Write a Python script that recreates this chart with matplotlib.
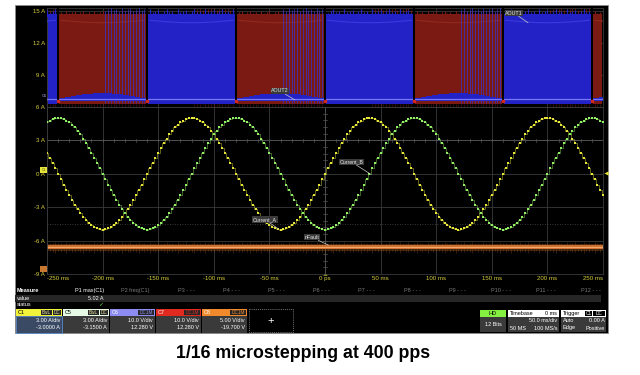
import matplotlib.pyplot as plt
import numpy as np
from matplotlib.patches import Rectangle

plt.rcParams['font.family'] = ['Liberation Sans', 'DejaVu Sans']

# ---- values ----
time_ticks_ms = [-250, -200, -150, -100, -50, 0, 50, 100, 150, 200, 250]
time_tick_labels = ["-250 ms", "-200 ms", "-150 ms", "-100 ms", "-50 ms", "0 ps",
                    "50 ms", "100 ms", "150 ms", "200 ms", "250 ms"]
upper_ticks_a = [9, 12, 15]
upper_tick_labels = ["9 A", "12 A", "15 A"]
lower_ticks_a = [-9, -6, -3, 0, 3, 6]
lower_tick_labels = ["-9 A", "-6 A", "-3 A", "0 A", "3 A", "6 A"]

step_period_ms = 2.5            # 400 pps
first_step, last_step = -100, 100
# coil current at each microstep over a quarter cycle (A), 1/16 stepping
quarter_levels_a = [0.00, 0.49, 0.98, 1.45, 1.91, 2.35, 2.77, 3.17, 3.54,
                    3.87, 4.16, 4.41, 4.62, 4.78, 4.90, 4.98, 5.02]
phase_b_lag_steps = 16

# bridge outputs: which output is switching in each interval
aout_edges_ms = [-250, -240, -160, -80, 0, 80, 160, 240, 250]
aout_active = ["AOUT1", "AOUT2", "AOUT1", "AOUT2", "AOUT1", "AOUT2", "AOUT1", "AOUT2"]
aout_high_a = 14.7
aout_low_a = 6.3
aout_rail_a = 6.75
spike_heights = [0.32, 0.08, 0.22, 0.41, 0.14, 0.28, 0.05, 0.37, 0.18, 0.26]

nfault_level_a = -6.57

measure_headers = ["P1 max(C1)", "P2 freq(C1)", "P3 - - -", "P4 - - -", "P5 - - -", "P6 - - -",
                   "P7 - - -", "P8 - - -", "P9 - - -", "P10 - - -", "P11 - - -", "P12 - - -"]
measure_value = "5.02 A"
channel_names = ["C1", "C5", "C6", "C7", "C8"]
channel_scales = ["3.00 A/div", "3.00 A/div", "10.0 V/div", "10.0 V/div", "5.00 V/div"]
channel_offsets = ["-3.0000 A", "-3.1500 A", "12.280 V", "12.280 V", "-19.700 V"]
channel_badges = ["BwL DC", "BwL DC", "DC1M", "DC1M", "DC1M"]
channel_colors = ["#f2f23a", "#e6fbe6", "#8c8cf2", "#e02a20", "#f08a2c"]

YELLOW = "#e6e63a"
GREEN = "#92ee62"
BLUE = "#2222c6"
RED = "#7a1a12"
ORANGE = "#cc7030"
LABEL = "#d8cf3c"
GRID = "#3a3a3a"


def level(k):
    k %= 64
    if k <= 16:
        return quarter_levels_a[k]
    if k <= 32:
        return quarter_levels_a[32 - k]
    if k <= 48:
        return -quarter_levels_a[k - 32]
    return -quarter_levels_a[64 - k]


steps = np.arange(first_step, last_step + 1)
t_steps = steps * step_period_ms
current_a = np.array([level(k) for k in steps])
current_b = np.array([level(k - phase_b_lag_steps) for k in steps])
phase = steps % 64
spikes = np.array([spike_heights[i % len(spike_heights)] for i in range(len(steps))])

fig = plt.figure(figsize=(6.4, 3.75), dpi=100)
fig.patch.set_facecolor("white")

# background layer in pixel coordinates for the scope frame and panels
bg = fig.add_axes([0, 0, 1, 1])
bg.set_xlim(0, 640)
bg.set_ylim(375, 0)
bg.axis("off")
bg.add_patch(Rectangle((15, 5), 593, 328, fc="black", ec="#8c8c8c", lw=0.6))

ax_top = fig.add_axes([47 / 640, 1 - 107 / 375, 556 / 640, 99 / 375])
ax_bot = fig.add_axes([47 / 640, 1 - 274 / 375, 556 / 640, 167 / 375])
for ax in (ax_top, ax_bot):
    ax.set_facecolor("black")
    ax.set_xlim(-250, 250)
    ax.set_xticks(time_ticks_ms)
    ax.grid(True, color=GRID, lw=0.6)
    ax.set_axisbelow(True)
    for s in ax.spines.values():
        s.set_color(GRID)
        s.set_linewidth(0.6)
    ax.tick_params(length=0, labelsize=4.4, labelcolor=LABEL, pad=1.5)

ax_top.set_ylim(6, 15.28)
ax_top.set_yticks(upper_ticks_a, upper_tick_labels)
ax_top.set_xticklabels([])
ax_bot.set_ylim(-9, 6)
ax_bot.set_yticks(lower_ticks_a, lower_tick_labels)
ax_bot.set_xticklabels(time_tick_labels)
xlabels = ax_bot.get_xticklabels()
xlabels[0].set_horizontalalignment("left")
xlabels[-1].set_horizontalalignment("right")

# ---- upper panel: AOUT1 / AOUT2 PWM envelopes ----
for i, owner in enumerate(aout_active):
    t0, t1 = aout_edges_ms[i], aout_edges_ms[i + 1]
    color = BLUE if owner == "AOUT1" else RED
    ax_top.add_patch(Rectangle((t0 + 0.8, aout_low_a), t1 - t0 - 1.6, aout_high_a - aout_low_a,
                               fc=color, ec="none", zorder=3 if owner == "AOUT1" else 2))

red_half = current_a < 0
blue_half = current_a > 0
red_decay = (phase > 48) & (phase < 64)
blue_decay = (phase > 16) & (phase < 32)

# ragged tops / hanging spikes
ax_top.vlines(t_steps[blue_half], aout_high_a - 0.3, aout_high_a + spikes[blue_half] * 1.2,
              color=BLUE, lw=0.9, zorder=3)
ax_top.vlines(t_steps[red_half], aout_high_a - 0.3, aout_high_a + spikes[red_half] * 0.8,
              color=RED, lw=0.9, zorder=2)
ax_top.vlines(t_steps[blue_decay], aout_high_a, aout_high_a + 0.3 + spikes[blue_decay],
              color="#8a2016", lw=0.5, zorder=2.5)
ax_top.vlines(t_steps[red_half], aout_low_a - 0.15 - spikes[red_half], aout_low_a,
              color="#6a1a12", lw=0.4, zorder=2)
ax_top.vlines(t_steps[blue_decay], aout_low_a - 0.1 - spikes[blue_decay], aout_low_a,
              color="#6a1a12", lw=0.4, zorder=2)
# AOUT1 pulses during current decay in the AOUT2 half
ax_top.vlines(t_steps[red_decay], aout_low_a + 0.1, aout_high_a + 0.25 + spikes[red_decay],
              color="#3434d8", lw=0.5, zorder=3)

# inner level traces
top_a = np.where(blue_half, 14.15 - 0.05 * np.abs(current_a), np.nan)
top_b = np.where(red_half, 14.15 - 0.05 * np.abs(current_a), np.nan)
ax_top.plot(t_steps, top_a, color="#3a3ae0", lw=0.8, zorder=3.2)
ax_top.plot(t_steps, top_b, color="#922a1e", lw=0.8, zorder=2.2)

# AOUT1 low level with I*R hump while AOUT2 drives
ax_top.fill_between(t_steps, aout_rail_a - 0.2, aout_rail_a + 0.11 * np.abs(current_a),
                    where=current_a <= 0, step="mid", color=BLUE, lw=0, zorder=4)
ax_top.axhline(aout_rail_a, color="#7878ff", lw=0.9, zorder=5)
for e in aout_edges_ms[1:-1]:
    ax_top.axvline(e, color="black", lw=1.4, zorder=6)
    ax_top.plot([e], [aout_rail_a - 0.15], "s", ms=1.6, color="#d02a20", zorder=7)

# ---- lower panel: coil currents and nFault ----
# centre axes of the 8-division graticule
ax_bot.axhline(3, color="#555555", lw=0.6, zorder=1)
ax_bot.axvline(0, color="#555555", lw=0.6, zorder=1)
for x in np.arange(-250, 251, 10):
    ax_bot.plot([x, x], [2.85, 3.15], color="#555555", lw=0.5, zorder=1)
for y in np.arange(-9, 6.01, 0.6):
    ax_bot.plot([-1.8, 1.8], [y, y], color="#555555", lw=0.5, zorder=1)
ax_bot.axhline(-4.5, color="#4a4a4a", lw=0.6, ls=(0, (1, 2)), zorder=1)

ax_bot.vlines(t_steps, nfault_level_a - 0.3 - spikes * 0.6, nfault_level_a + 0.25 + spikes * 0.5,
              color="#8a4e1e", lw=0.4, alpha=0.7, zorder=2)
ax_bot.fill_between([-250, 250], nfault_level_a - 0.35, nfault_level_a + 0.3,
                    color="#7a4418", alpha=0.5, lw=0, zorder=2)
ax_bot.fill_between([-250, 250], nfault_level_a - 0.2, nfault_level_a + 0.18,
                    color=ORANGE, lw=0, zorder=2)
ax_bot.axhline(nfault_level_a, color="#f2aa6a", lw=0.8, zorder=2)

ax_bot.plot(t_steps, current_a, drawstyle="steps-mid", color=YELLOW, lw=0.6, alpha=0.5, zorder=3)
ax_bot.plot(t_steps, current_a, "s", ms=1.7, mew=0, color=YELLOW, zorder=3)
ax_bot.plot(t_steps, current_b, drawstyle="steps-mid", color=GREEN, lw=0.6, alpha=0.5, zorder=3)
ax_bot.plot(t_steps, current_b, "s", ms=1.7, mew=0, color=GREEN, zorder=3)

lab = dict(fontsize=3.8, color="#e8e8e8", zorder=8, ha="center", va="center",
           bbox=dict(fc="#3a3a3a", ec="none", pad=0.4),
           arrowprops=dict(arrowstyle="-", color="#c8c8c8", lw=0.5, shrinkA=0, shrinkB=0))
ax_top.annotate("AOUT1", xy=(182.6, 13.9), xytext=(170, 14.8), **lab)
ax_top.annotate("AOUT2", xy=(-27, 6.66), xytext=(-40.5, 7.5), **lab)
ax_bot.annotate("Current_B", xy=(41, -0.03), xytext=(24, 1.05), **lab)
ax_bot.annotate("Current_A", xy=(-42, -4.95), xytext=(-54, -4.1), **lab)
ax_bot.annotate("nFault", xy=(3, -6.4), xytext=(-12, -5.7), **lab)

# channel markers on the graticule edges
bg.add_patch(Rectangle((40, 167), 8, 6, fc="#e6e63a", ec="none", zorder=9))
bg.text(44, 170, "C1", fontsize=2.6, color="#505010", ha="center", va="center", zorder=10)
bg.text(44, 96, "C6", fontsize=2.8, color="#b0b0ff", ha="center", va="center")
bg.add_patch(Rectangle((40, 266), 8, 6, fc="#c87830", ec="none", zorder=9))
bg.plot([605.5], [173], marker="<", ms=3, color=YELLOW, mew=0)
bg.plot([325], [273], marker="^", ms=3, color=YELLOW, mew=0, zorder=10)

# ---- measurement table ----
tf = dict(fontsize=4, va="center")
bg.text(17, 290.5, "Measure", color="white", fontweight="bold", **tf)
for i, h in enumerate(measure_headers):
    bg.text(104 + 45.2 * i, 290.5, h, color="white" if i == 0 else "#7a7a7a", ha="right", **tf)
bg.add_patch(Rectangle((15, 294.5), 586, 7, fc="#262626", ec="none"))
bg.text(17, 298, "value", color="white", **tf)
bg.text(104, 298, measure_value, color="white", ha="right", **tf)
bg.text(17, 305, "status", color="white", **tf)
bg.text(103, 305, "\u2713", color="#5cd040", ha="right", fontsize=4.5, va="center",
        family=["DejaVu Sans"])

box_x = [16, 63, 110, 156, 202]
box_w = [46, 46, 45, 45, 45]
for i, name in enumerate(channel_names):
    x0, w = box_x[i], box_w[i]
    body = "#3a4a64" if i == 0 else "#3a3a3a"
    bg.add_patch(Rectangle((x0, 316), w, 16.5, fc=body, ec="#5f8fd0" if i == 0 else "none", lw=0.6))
    bg.add_patch(Rectangle((x0, 309), w, 7, fc=channel_colors[i], ec="none"))
    txt = "black" if i < 2 else "white"
    bg.text(x0 + 2, 312.5, name, color=txt, **tf)
    badges = channel_badges[i].split()
    bx = x0 + w - 1
    for b in reversed(badges):
        bw = 4.2 * len(b) - 1 if len(b) > 2 else 8
        bx -= bw
        bg.add_patch(Rectangle((bx, 310), bw, 5.4, fc="#262626", ec="none"))
        bg.text(bx + bw / 2, 312.7, b, color=channel_colors[i] if i > 1 else "#e8e8a0",
                fontsize=3.4, ha="center", va="center")
        bx -= 0.8
    bg.text(x0 + w - 2, 320.5, channel_scales[i], color="white", ha="right", **tf)
    bg.text(x0 + w - 2, 327.8, channel_offsets[i], color="white", ha="right", **tf)

bg.add_patch(Rectangle((249, 309), 44, 23, fc="none", ec="#9a9a9a", lw=0.5, ls=(0, (1.5, 1.5))))
bg.text(271, 321, "+", color="white", fontsize=8, ha="center", va="center")

# acquisition boxes
bg.add_patch(Rectangle((480, 310), 26, 7, fc="#86f040", ec="none"))
bg.add_patch(Rectangle((480, 317), 26, 15, fc="#3a3a3a", ec="none"))
bg.text(493, 313.5, "HD", color="black", ha="center", **tf)
bg.text(493, 324.5, "12 Bits", color="white", ha="center", **tf)

bg.add_patch(Rectangle((508, 310), 51, 7, fc="white", ec="none"))
bg.add_patch(Rectangle((508, 317), 51, 15, fc="#3a3a3a", ec="none"))
bg.text(510, 313.5, "Timebase", color="black", **tf)
bg.text(557, 313.5, "0 ms", color="black", ha="right", **tf)
bg.text(557, 320.8, "50.0 ms/div", color="white", ha="right", **tf)
bg.text(510, 328, "50 MS", color="white", **tf)
bg.text(557, 328, "100 MS/s", color="white", ha="right", **tf)

bg.add_patch(Rectangle((561, 310), 45, 7, fc="white", ec="none"))
bg.add_patch(Rectangle((561, 317), 45, 15, fc="#3a3a3a", ec="none"))
bg.text(562.5, 313.5, "Trigger", color="black", **tf)
bg.add_patch(Rectangle((585, 310.6), 7, 5.6, fc="black", ec="none"))
bg.text(588.5, 313.5, "C1", color="white", fontsize=3.4, ha="center", va="center")
bg.add_patch(Rectangle((593, 310.6), 12, 5.6, fc="black", ec="none"))
bg.text(599, 313.5, "DC", color="white", fontsize=3.4, ha="center", va="center")
bg.text(562.5, 320.8, "Auto", color="white", **tf)
bg.text(604.5, 320.8, "0.00 A", color="white", ha="right", **tf)
bg.text(562.5, 328, "Edge", color="white", **tf)
bg.text(604.5, 328, "Positive", color="white", ha="right", **tf)

fig.text(303 / 640, 1 - 354 / 375, "1/16 microstepping at 400 pps", fontsize=12.8,
         fontweight="bold", ha="center", va="center", color="black")

fig.savefig("out.png", dpi=100, facecolor="white")
